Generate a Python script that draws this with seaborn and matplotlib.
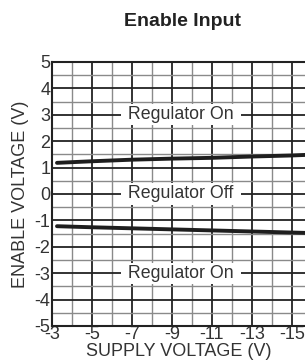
import matplotlib
matplotlib.use("Agg")
import matplotlib.pyplot as plt
import seaborn as sns
import pandas as pd

# values
supply_v = [-3.25, -5, -7, -9, -11, -13, -15, -16]
upper_threshold = [1.18, 1.24, 1.30, 1.34, 1.37, 1.42, 1.46, 1.49]
lower_threshold = [-1.22, -1.26, -1.30, -1.34, -1.38, -1.42, -1.46, -1.48]

x_major = [-3, -5, -7, -9, -11, -13, -15]
x_minor = [-4, -6, -8, -10, -12, -14, -16]
y_major = [-5, -4, -3, -2, -1, 0, 1, 2, 3, 4, 5]
y_minor = [-4.5, -3.5, -2.5, -1.5, -0.5, 0.5, 1.5, 2.5, 3.5, 4.5]

region_labels = ["Regulator On", "Regulator Off", "Regulator On"]
region_y = [3, 0, -3]

df = pd.DataFrame({
    "supply": supply_v * 2,
    "enable": upper_threshold + lower_threshold,
    "curve": ["upper"] * len(supply_v) + ["lower"] * len(supply_v),
})

sns.set_theme(style="white")
plt.rcParams['font.family'] = ['Liberation Sans', 'DejaVu Sans']

fig = plt.figure(figsize=(3.05, 3.62), dpi=100)
ax = fig.add_axes([52 / 305, 36 / 362, 260 / 305, 264 / 362])

# Create the threshold curves
sns.lineplot(data=df, x="supply", y="enable", units="curve", estimator=None,
             color="#1e1e1e", linewidth=2.8, ax=ax, legend=False)

ax.set_xlim(-3, -16)
ax.set_ylim(-5, 5)
ax.set_xticks(x_major)
ax.set_xticks(x_minor, minor=True)
ax.set_yticks(y_major)
ax.set_yticks(y_minor, minor=True)
ax.set_xticklabels([str(v) for v in x_major])
ax.set_yticklabels([str(v) for v in y_major])

ax.set_axisbelow(True)
ax.grid(which="major", color="#222222", linewidth=1.3)
ax.grid(which="minor", color="#8a8a8a", linewidth=1.0)

ax.tick_params(which="both", length=0, labelsize=13, labelcolor="#333333")
ax.tick_params(axis="y", pad=1.0)
ax.tick_params(axis="x", pad=0.3)

for side in ["left", "bottom", "top"]:
    ax.spines[side].set_color("#222222")
    ax.spines[side].set_linewidth(1.5)
ax.spines["right"].set_visible(False)

# region labels on white boxes over the grid
for label, yv in zip(region_labels, region_y):
    ax.text(-9.45, yv, " " + label + " ", ha="center", va="center",
            fontsize=12.8, color="#333333", zorder=5,
            bbox=dict(boxstyle="square,pad=0.12", facecolor="white", edgecolor="none"))

# Labels and title
ax.set_xlabel("SUPPLY VOLTAGE (V)", fontsize=13, color="#333333", va="center")
ax.set_ylabel("ENABLE VOLTAGE (V)", fontsize=13, color="#333333", va="center")
ax.xaxis.set_label_coords((178.5 - 52) / 260, (326 - 352) / 264)
ax.yaxis.set_label_coords((21 - 52) / 260, 0.5)
fig.text(182 / 305, 1 - 21 / 362, "Enable Input", ha="center", va="center",
         fontsize=14, fontweight="bold", color="#222222")

fig.savefig("out.png", dpi=100)
